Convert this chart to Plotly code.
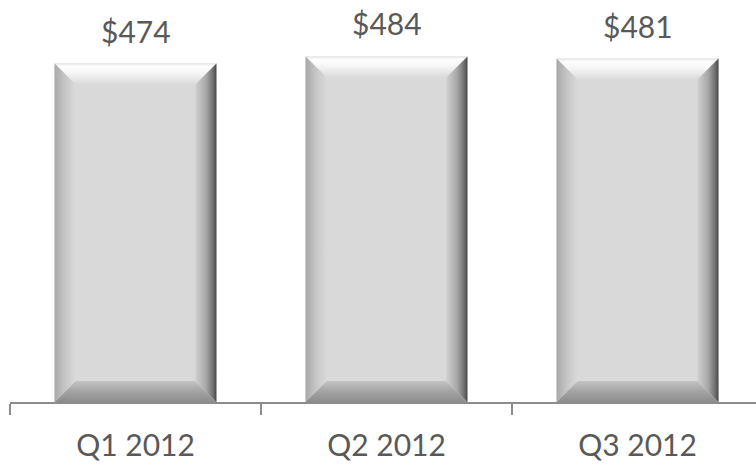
import plotly.graph_objects as go

categories = ["Q1 2012", "Q2 2012", "Q3 2012"]
values = [474, 484, 481]
labels = ["$474", "$484", "$481"]

BAR_W = 0.645
PX_PER_X = 251.0
PX_PER_Y = 0.714
BEVEL_PX = 21
bx = BEVEL_PX / PX_PER_X
by = BEVEL_PX / PX_PER_Y
PLOT_H = 402

fig = go.Figure()
xs = list(range(len(categories)))
fig.add_trace(go.Bar(x=xs, y=values, width=BAR_W, marker=dict(color="#d9d9d9", line=dict(width=0)),
                     hoverinfo="skip", showlegend=False))

def face(px, py, orient, scale):
    fig.add_trace(go.Scatter(x=px + [px[0]], y=py + [py[0]], mode="lines", line=dict(width=0),
                             fill="toself", fillgradient=dict(type=orient, colorscale=scale),
                             hoverinfo="skip", showlegend=False))

for i, v in zip(xs, values):
    x0, x1 = i - BAR_W / 2, i + BAR_W / 2
    # top
    face([x0, x1, x1 - bx, x0 + bx], [v, v, v - by, v - by], "vertical",
         [[0, "#dadada"], [0.55, "#f6f6f6"], [0.85, "#ffffff"], [1, "#e6e6e6"]])
    # bottom
    face([x0, x1, x1 - bx, x0 + bx], [0, 0, by, by], "vertical",
         [[0, "#8c8c8c"], [0.5, "#a3a3a3"], [1, "#c4c4c4"]])
    # left
    face([x0, x0 + bx, x0 + bx, x0], [0, by, v - by, v], "horizontal",
         [[0, "#a8a8a8"], [0.5, "#c6c6c6"], [1, "#d9d9d9"]])
    # right
    face([x1 - bx, x1, x1, x1 - bx], [by, 0, v, v - by], "horizontal",
         [[0, "#d0d0d0"], [0.5, "#a8a8a8"], [0.85, "#6e6e6e"], [1, "#454545"]])

for i, v, t in zip(xs, values, labels):
    fig.add_annotation(x=i, y=v, text=t, showarrow=False, yanchor="bottom", yshift=13,
                       font=dict(family="Lato", size=30, color="#595959"))

fig.update_layout(
    width=756, height=466,
    margin=dict(l=10, r=0, t=0, b=64, pad=0),
    paper_bgcolor="white", plot_bgcolor="white",
    font=dict(family="Lato", size=30, color="#595959"),
    hovermode=False,
    xaxis=dict(range=[-0.5, 2.472], tickvals=xs, ticktext=categories, ticks="",
               showgrid=False, zeroline=False, showline=True, linecolor="#8c8c8c", linewidth=2,
               ticklabelstandoff=16, automargin=False,
               minor=dict(tickvals=[-0.5, 0.5, 1.5, 2.5], ticks="outside", ticklen=11,
                          tickcolor="#8c8c8c", tickwidth=2, showgrid=False),
               tickfont=dict(family="Lato", size=30, color="#595959"), fixedrange=True),
    yaxis=dict(range=[0, PLOT_H / PX_PER_Y], visible=False, showgrid=False, zeroline=False,
               automargin=False, fixedrange=True),
    bargap=0.355,
)

fig.write_html("out.html", config={"displayModeBar": False, "staticPlot": True},
               post_script="document.body.style.margin='0';document.body.style.overflow='hidden';")
